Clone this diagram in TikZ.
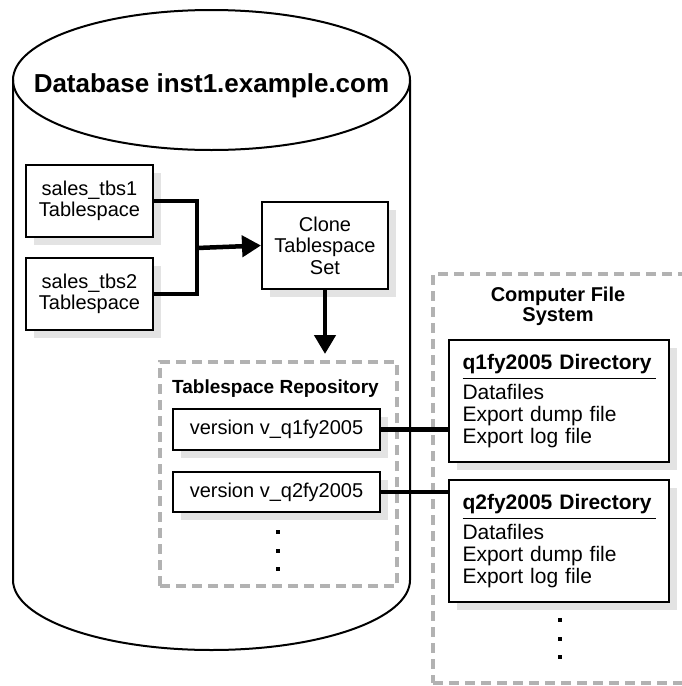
\documentclass[tikz,border=0pt]{standalone}
\usepackage{fontspec}
\setmainfont{Liberation Sans}
\usetikzlibrary{arrows.meta,shadows}
\definecolor{dashgray}{gray}{0.7}
\definecolor{shadowgray}{gray}{0.89}
\begin{document}
\begin{tikzpicture}[x=1pt,y=-1pt,line join=miter,
  tbox/.style={draw,line width=2pt,fill=white,inner sep=0pt,align=center,
    drop shadow={shadow xshift=8pt,shadow yshift=-8pt,fill=shadowgray,opacity=1},
    font=\fontsize{20}{21.5}\selectfont},
  area/.style={draw=dashgray,line width=4pt,dash pattern=on 10pt off 6pt,inner sep=0pt},
  link/.style={line width=4.5pt},
  tip/.style={-{Triangle[length=19pt,width=21pt]}}]
  \useasboundingbox (0,0) rectangle (682,686);
  \draw[line width=2pt] (13,80) -- (13,580) arc[start angle=180,end angle=360,x radius=198.5pt,y radius=70pt] -- (410,80);
  \draw[line width=2pt] (211.5,80) ellipse [x radius=198.5pt,y radius=70pt];
  \node[anchor=base,inner sep=0pt,font=\fontsize{26}{28}\selectfont\bfseries] (dbname) at (211.5,92) {Database inst1.example.com};
  \node[tbox,minimum width=127pt,minimum height=72pt] (tbs1) at (89.5,201) {sales\_tbs1\\Tablespace};
  \node[tbox,minimum width=127pt,minimum height=72pt] (tbs2) at (89.5,294) {sales\_tbs2\\Tablespace};
  \node[tbox,minimum width=126pt,minimum height=87pt] (clone) at (325,245.5) {Clone\\Tablespace\\Set};
  \node[area,minimum width=237pt,minimum height=224pt] (repo) at (278.5,474) {};
  \node[anchor=base west,inner sep=0pt,font=\fontsize{19}{21}\selectfont\bfseries] (repolabel) at (172,393) {Tablespace Repository};
  \node[tbox,minimum width=207pt,minimum height=41pt] (v1) at (276.5,429.5) {version v\_q1fy2005};
  \node[tbox,minimum width=207pt,minimum height=40pt] (v2) at (276.5,492) {version v\_q2fy2005};
  \foreach \y in {530,549,567}
    \fill (276,\y) rectangle ++(4,4);
  \node[area,minimum width=267pt,minimum height=409pt] (fsys) at (566.5,478.5) {};
  \node[anchor=north,inner sep=0pt,align=center,font=\fontsize{20}{20}\selectfont\bfseries] (fslabel) at (558,287) {Computer File\\System};
  \node[tbox,anchor=north west,align=left,text width=193pt,inner xsep=13.5pt,minimum height=122pt,font=\fontsize{21}{22}\selectfont] (dir1) at (448,339)
    {\textbf{q1fy2005 Directory}\par\vspace{3.8pt}\hrule height 1.5pt\vspace{5pt}Datafiles\\Export dump file\\Export log file};
  \node[tbox,anchor=north west,align=left,text width=193pt,inner xsep=13.5pt,minimum height=122pt,font=\fontsize{21}{22}\selectfont] (dir2) at (448,479)
    {\textbf{q2fy2005 Directory}\par\vspace{3.8pt}\hrule height 1.5pt\vspace{5pt}Datafiles\\Export dump file\\Export log file};
  \foreach \y in {618,637,655}
    \fill (558,\y) rectangle ++(4,4);
  \coordinate (join) at (197,248);
  \draw[link] (tbs1.east) -| (join) |- (tbs2.east);
  \draw[link,tip] (join) -- (clone.west);
  \draw[link,tip,shorten >=6pt] (clone.south) -- (clone.south |- repo.north);
  \draw[link] (v1.east) -- (v1.east -| dir1.west);
  \draw[link] (v2.east) -- (v2.east -| dir2.west);
\end{tikzpicture}
\end{document}
